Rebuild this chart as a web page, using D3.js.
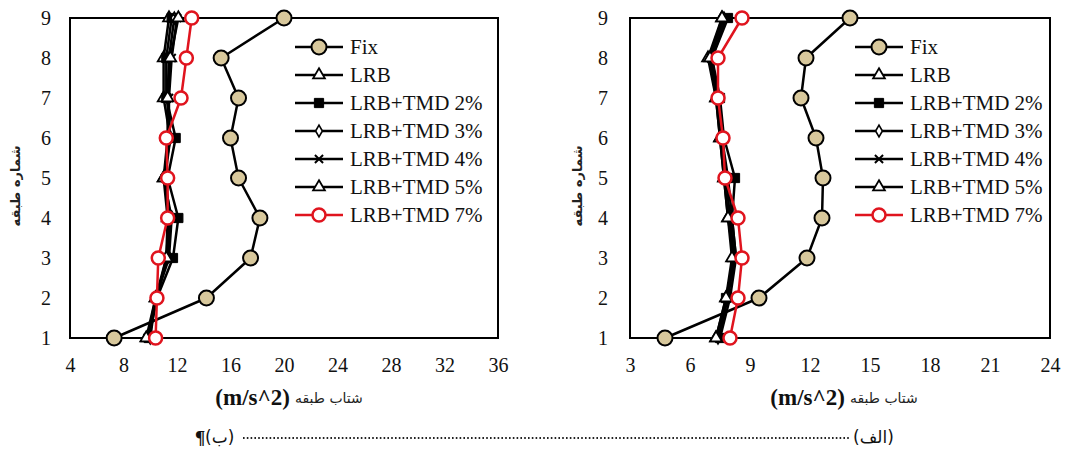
<!DOCTYPE html>
<html>
<head>
<meta charset="utf-8">
<script src="https://cdn.jsdelivr.net/npm/d3@7"></script>
<style>
  html, body { margin: 0; padding: 0; background: #fff; }
  svg { display: block; }
</style>
</head>
<body>
<svg id="chart" width="1073" height="452"></svg>
<script>
// ---------------- DATA ----------------
const floors = [1, 2, 3, 4, 5, 6, 7, 8, 9];
const seriesNames = ["Fix", "LRB", "LRB+TMD 2%", "LRB+TMD 3%", "LRB+TMD 4%", "LRB+TMD 5%", "LRB+TMD 7%"];

// Chart (ب) – left
const leftFix  = [7.3, 14.2, 17.5, 18.2, 16.6, 16.0, 16.6, 15.3, 20.0];
const leftLRB  = [9.8, 10.4, 11.4, 11.6, 11.0, 11.5, 11.0, 11.0, 11.4];
const leftTMD2 = [9.9, 10.5, 11.7, 12.1, 11.3, 11.9, 11.2, 11.2, 11.6];
const leftTMD3 = [10.0, 10.4, 11.3, 11.5, 11.1, 11.5, 11.3, 11.4, 11.8];
const leftTMD4 = [9.8, 10.5, 11.2, 11.4, 11.1, 11.4, 11.4, 11.6, 12.0];
const leftTMD5 = [9.7, 10.4, 11.2, 11.3, 11.0, 11.3, 11.3, 11.5, 12.1];
const leftTMD7 = [10.4, 10.5, 10.6, 11.3, 11.3, 11.2, 12.3, 12.7, 13.1];
const leftXTicks = [4, 8, 12, 16, 20, 24, 28, 32, 36];

// Chart (الف) – right
const rightFix  = [4.75, 9.45, 11.85, 12.6, 12.65, 12.3, 11.55, 11.8, 14.0];
const rightLRB  = [7.3, 7.8, 8.2, 7.9, 7.7, 7.5, 7.3, 6.9, 7.6];
const rightTMD2 = [7.5, 7.8, 8.3, 8.1, 8.25, 7.7, 7.5, 7.1, 7.9];
const rightTMD3 = [7.4, 7.9, 8.2, 8.0, 7.8, 7.6, 7.4, 7.0, 7.7];
const rightTMD4 = [7.5, 8.0, 8.3, 8.1, 7.9, 7.6, 7.4, 7.1, 7.8];
const rightTMD5 = [7.3, 7.8, 8.1, 7.9, 7.7, 7.5, 7.3, 7.0, 7.6];
const rightTMD7 = [8.0, 8.4, 8.6, 8.4, 7.75, 7.65, 7.4, 7.4, 8.6];
const rightXTicks = [3, 6, 9, 12, 15, 18, 21, 24];

const xTitleLatin = "(m/s^2)";
const xTitlePersian = "شتاب طبقه";
const yTitle = "شماره طبقه";
const captionLeft = "(ب)";
const captionRight = "(الف)";

// ---------------- STYLES ----------------
const RED = "#e0141e";
const styles = [
  { color: "#000", marker: "circle", fill: "#d8c89c", r: 7.5, sw: 2 },
  { color: "#000", marker: "triangle", fill: "#fff", size: 60, sw: 1.8 },
  { color: "#000", marker: "square", fill: "#000", size: 85, sw: 1 },
  { color: "#000", marker: "diamond", fill: "#fff", size: 40, sw: 1.6 },
  { color: "#000", marker: "times", fill: "none", size: 45, sw: 2 },
  { color: "#000", marker: "triangle", fill: "#fff", size: 60, sw: 1.8 },
  { color: RED, marker: "circle", fill: "#fff", r: 6.5, sw: 2.5 }
];

const svg = d3.select("#chart");
const SERIF = '"Liberation Serif", serif';
const PERSIAN = '"DejaVu Sans", sans-serif';

function drawMarker(sel, st, x, y) {
  if (st.marker === "circle") {
    sel.append("circle").attr("cx", x).attr("cy", y).attr("r", st.r)
      .attr("fill", st.fill).attr("stroke", st.color).attr("stroke-width", st.sw);
  } else {
    const typ = { triangle: d3.symbolTriangle, square: d3.symbolSquare,
                  diamond: d3.symbolDiamond, times: d3.symbolTimes }[st.marker];
    sel.append("path").attr("d", d3.symbol(typ, st.size)())
      .attr("transform", `translate(${x},${y})`)
      .attr("fill", st.fill).attr("stroke", st.color).attr("stroke-width", st.sw);
  }
}

function drawChart(cfg) {
  const g = svg.append("g");
  const x = d3.scaleLinear().domain(cfg.xDomain).range([cfg.x0, cfg.x1]);
  const y = d3.scaleLinear().domain([1, 9]).range([cfg.y1, cfg.y0]);

  // axes
  const xAxis = g.append("g").attr("transform", `translate(0,${cfg.y1})`)
    .call(d3.axisBottom(x).tickValues(cfg.xTicks).tickSize(0).tickPadding(20).tickFormat(d3.format("d")));
  const yAxis = g.append("g").attr("transform", `translate(${cfg.x0},0)`)
    .call(d3.axisLeft(y).tickValues(floors).tickSize(0).tickPadding(cfg.yPad).tickFormat(d3.format("d")));
  [xAxis, yAxis].forEach(a => {
    a.attr("font-family", null).attr("font-size", null);
    a.select(".domain").remove();
    a.selectAll("text").style("font-family", SERIF).style("font-size", "20px").attr("fill", "#111");
  });

  // frame
  g.append("rect").attr("x", cfg.x0).attr("y", cfg.y0)
    .attr("width", cfg.x1 - cfg.x0).attr("height", cfg.y1 - cfg.y0)
    .attr("fill", "none").attr("stroke", "#000").attr("stroke-width", 2);

  // series
  const line = d3.line().x(d => x(d.v)).y(d => y(d.f));
  cfg.series.forEach((vals, i) => {
    const st = styles[i];
    const pts = floors.map((f, k) => ({ f, v: vals[k] }));
    const sg = g.append("g");
    sg.append("path").datum(pts).attr("d", line).attr("fill", "none")
      .attr("stroke", st.color).attr("stroke-width", 2.5).attr("stroke-linejoin", "round");
    pts.forEach(p => drawMarker(sg, st, x(p.v), y(p.f)));
  });

  // legend
  seriesNames.forEach((name, i) => {
    const st = styles[i];
    const ly = cfg.legY + i * 28;
    const lg = g.append("g");
    lg.append("line").attr("x1", cfg.legX).attr("x2", cfg.legX + 48)
      .attr("y1", ly).attr("y2", ly).attr("stroke", st.color).attr("stroke-width", 2.5);
    drawMarker(lg, st, cfg.legX + 24, ly);
    lg.append("text").attr("x", cfg.legX + 55).attr("y", ly).attr("dy", "0.35em")
      .style("font-family", SERIF).style("font-size", "21px").attr("fill", "#111").text(name);
  });

  // x title
  g.append("text").attr("x", cfg.titleX).attr("y", 405)
    .style("font-family", SERIF).style("font-size", "23px").style("font-weight", "bold")
    .attr("text-anchor", "end").attr("fill", "#111").text(xTitleLatin);
  g.append("text").attr("x", cfg.titleX + 5).attr("y", 403)
    .style("font-family", PERSIAN).style("font-size", "14px")
    .attr("text-anchor", "start").attr("fill", "#222").text(xTitlePersian);

  // y title
  g.append("text").attr("transform", `translate(${cfg.yTitleX},186) rotate(-90)`)
    .style("font-family", PERSIAN).style("font-size", "13px").style("font-weight", "bold")
    .attr("text-anchor", "middle").attr("fill", "#222").text(yTitle);
}

drawChart({
  xDomain: [4, 36], xTicks: leftXTicks, x0: 70, x1: 498, y0: 18, y1: 338, yPad: 19,
  series: [leftFix, leftLRB, leftTMD2, leftTMD3, leftTMD4, leftTMD5, leftTMD7],
  legX: 295, legY: 47, titleX: 290, yTitleX: 20
});
drawChart({
  xDomain: [3, 24], xTicks: rightXTicks, x0: 630, x1: 1050, y0: 18, y1: 338, yPad: 22,
  series: [rightFix, rightLRB, rightTMD2, rightTMD3, rightTMD4, rightTMD5, rightTMD7],
  legX: 855, legY: 47, titleX: 845, yTitleX: 582
});

// caption row
const cap = svg.append("g");
cap.append("text").attr("x", 195).attr("y", 444).style("font-family", SERIF)
  .style("font-size", "19px").style("font-weight", "bold").attr("fill", "#111").text("¶");
cap.append("text").attr("x", 205).attr("y", 443).style("font-family", PERSIAN)
  .style("font-size", "17px").attr("fill", "#111").text(captionLeft);
cap.append("line").attr("x1", 243).attr("x2", 851).attr("y1", 438).attr("y2", 438)
  .attr("stroke", "#222").attr("stroke-width", 1.8).attr("stroke-dasharray", "1.6,2.2");
cap.append("text").attr("x", 853).attr("y", 443).style("font-family", PERSIAN)
  .style("font-size", "17px").attr("fill", "#111").text(captionRight);
</script>
</body>
</html>
